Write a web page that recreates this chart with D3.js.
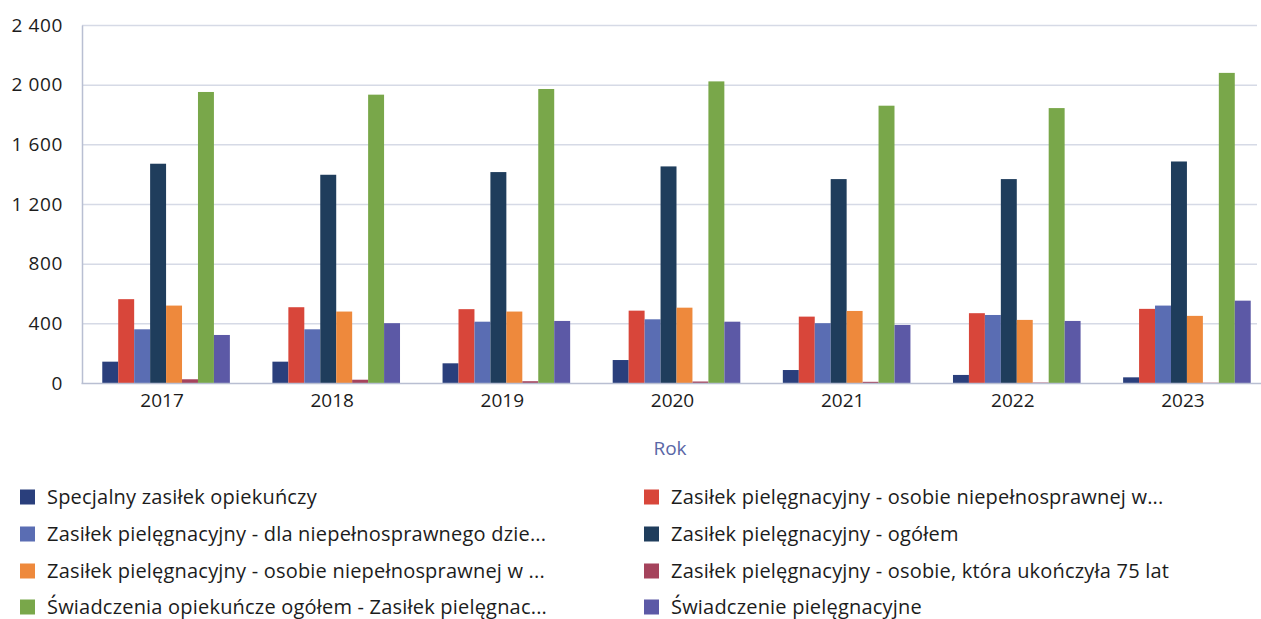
<!DOCTYPE html>
<html lang="pl">
<head>
<meta charset="utf-8">
<script src="https://cdn.jsdelivr.net/npm/d3@7"></script>
<style>
  html, body { margin: 0; padding: 0; background: #ffffff; }
  svg { display: block; font-family: "Open Sans", "Noto Sans", sans-serif; }
</style>
</head>
<body>
<svg id="chart" width="1261" height="619"></svg>
<script>
// Years on the category axis
const years = ["2017", "2018", "2019", "2020", "2021", "2022", "2023"];

// Series names, in bar order within each year (legend reads row by row)
const seriesNames = [
  "Specjalny zasiłek opiekuńczy",
  "Zasiłek pielęgnacyjny -  osobie niepełnosprawnej w...",
  "Zasiłek pielęgnacyjny - dla niepełnosprawnego dzie...",
  "Zasiłek pielęgnacyjny - ogółem",
  "Zasiłek pielęgnacyjny - osobie niepełnosprawnej w ...",
  "Zasiłek pielęgnacyjny - osobie, która ukończyła 75 lat",
  "Świadczenia opiekuńcze ogółem - Zasiłek pielęgnac...",
  "Świadczenie pielęgnacyjne"
];

// Values per series, one per year
const specjalny      = [143, 143, 132, 154, 87, 54, 38];
const osobieW        = [562, 508, 495, 485, 445, 468, 497];
const dziecko        = [360, 360, 411, 427, 401, 456, 519];
const zpOgolem       = [1470, 1396, 1414, 1452, 1367, 1367, 1485];
const osobieW2       = [519, 479, 479, 505, 483, 423, 450];
const ukonczyla75    = [25, 22, 12, 10, 8, 3, 2];
const swiadczenia    = [1951, 1933, 1971, 2022, 1859, 1843, 2079];
const pielegnacyjne  = [322, 401, 416, 411, 389, 416, 552];

const seriesValues = [specjalny, osobieW, dziecko, zpOgolem, osobieW2, ukonczyla75, swiadczenia, pielegnacyjne];

// Y tick values
const yTicks = [0, 400, 800, 1200, 1600, 2000, 2400];

const colors = ["#2a3f7c", "#d8463a", "#5a6db3", "#1f3d5c", "#ee893c", "#a5435c", "#79a74a", "#5c59a6"];

const svg = d3.select("#chart");

const plot = { left: 82, right: 1272, top: 25, bottom: 383 };

const pl = d3.formatLocale({ decimal: ",", thousands: "\u00a0", grouping: [3], currency: ["", " zł"] });
const fmt = pl.format(",d");

const x0 = d3.scaleBand()
  .domain(years)
  .range([plot.left - 1, plot.right])
  .paddingInner(0.25)
  .paddingOuter(0.125);

const x1 = d3.scaleBand()
  .domain(d3.range(seriesNames.length))
  .range([0, x0.bandwidth()]);

const y = d3.scaleLinear()
  .domain([0, 2400])
  .range([plot.bottom, plot.top]);

// Horizontal gridlines
svg.append("g")
  .selectAll("line")
  .data(yTicks.filter(d => d > 0))
  .join("line")
  .attr("x1", plot.left)
  .attr("x2", 1257)
  .attr("y1", d => y(d) + 0.5)
  .attr("y2", d => y(d) + 0.5)
  .attr("stroke", "#d6dae6")
  .attr("stroke-width", 1.5);

// Bars
const groups = svg.append("g")
  .selectAll("g")
  .data(years)
  .join("g")
  .attr("transform", d => `translate(${x0(d)},0)`);

groups.selectAll("rect")
  .data((yr, yi) => seriesValues.map((vals, si) => ({ si, v: vals[yi] })))
  .join("rect")
  .attr("x", d => x1(d.si))
  .attr("width", x1.bandwidth())
  .attr("y", d => y(d.v))
  .attr("height", d => y(0) - y(d.v))
  .attr("fill", d => colors[d.si]);

// Y axis
const yAxis = svg.append("g")
  .attr("transform", `translate(${plot.left},0)`)
  .call(d3.axisLeft(y).tickValues(yTicks).tickFormat(fmt).tickSize(0).tickPadding(19));
yAxis.select(".domain").attr("stroke", "#b9bfd2").attr("stroke-width", 1.5);
yAxis.selectAll("text")
  .attr("font-size", 19)
  .attr("letter-spacing", 0.6)
  .attr("fill", "#1c1c1c")
  .attr("font-family", "'Open Sans', sans-serif");

// X axis
const xAxis = svg.append("g")
  .attr("transform", `translate(0,${plot.bottom})`)
  .call(d3.axisBottom(x0).tickSize(0).tickPadding(11));
xAxis.select(".domain").attr("stroke", "#b9bfd2").attr("stroke-width", 1.5);
xAxis.selectAll("text")
  .attr("font-size", 19)
  .attr("dx", -4)
  .attr("fill", "#1c1c1c")
  .attr("font-family", "'Open Sans', sans-serif");

// Axis title
svg.append("text")
  .attr("x", 670)
  .attr("y", 455)
  .attr("text-anchor", "middle")
  .attr("font-size", 19)
  .attr("fill", "#5a66a6")
  .text("Rok");

// Legend: two columns, filled row by row
const legendCols = [20, 644];
const legendRows = [497, 534, 571, 607];
const legend = svg.append("g")
  .selectAll("g")
  .data(seriesNames)
  .join("g")
  .attr("transform", (d, i) => `translate(${legendCols[i % 2]},${legendRows[Math.floor(i / 2)]})`);

legend.append("rect")
  .attr("x", 0)
  .attr("y", -7.5)
  .attr("width", 15)
  .attr("height", 15)
  .attr("fill", (d, i) => colors[i]);

legend.append("text")
  .attr("x", 27)
  .attr("y", 0)
  .attr("dy", "0.35em")
  .attr("font-size", 20)
  .attr("letter-spacing", 0.2)
  .attr("fill", "#1c1c1c")
  .text(d => d);
</script>
</body>
</html>
